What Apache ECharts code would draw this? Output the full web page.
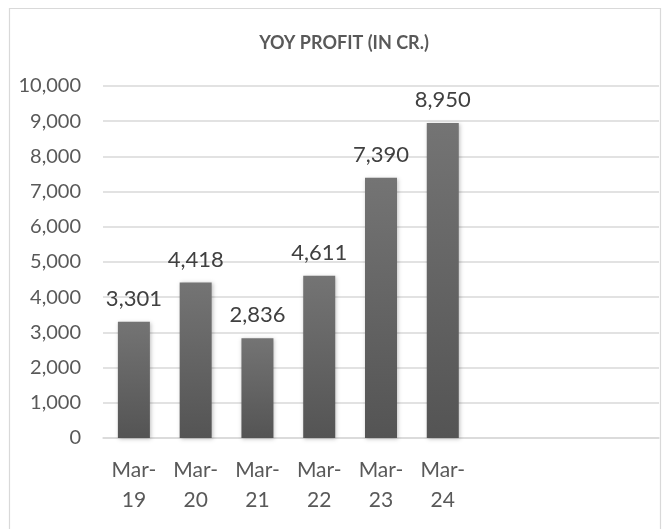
<!DOCTYPE html>
<html><head><meta charset="utf-8">
<script src="https://cdn.jsdelivr.net/npm/echarts@6/dist/echarts.min.js"></script>
<style>html,body{margin:0;padding:0;background:#fff}#c{width:662px;height:529px}</style>
</head><body><div id="c"></div>
<script>
var categories = ['Mar-19','Mar-20','Mar-21','Mar-22','Mar-23','Mar-24','','',''];
var profit = [3301, 4418, 2836, 4611, 7390, 8950];
var yTicks = [0,1000,2000,3000,4000,5000,6000,7000,8000,9000,10000];
var FONT = 'Lato, "Open Sans", sans-serif';
var chart = echarts.init(document.getElementById('c'));
chart.setOption({
  animation: false,
  backgroundColor: '#fff',
  title: {text: 'YOY PROFIT (IN CR.)', left: 339, textAlign: 'center', top: 29,
    textStyle: {fontFamily: FONT, fontSize: 18, fontWeight: 'bold', color: '#595959'}},
  graphic: [{type: 'rect', shape: {x: 9.5, y: 8.5, width: 651, height: 540},
    style: {fill: 'none', stroke: '#d9d9d9', lineWidth: 1.2}, silent: true}],
  grid: {left: 103, right: 3, top: 86, bottom: 91},
  xAxis: {type: 'category', data: categories,
    axisLine: {show: true, lineStyle: {color: '#d9d9d9', width: 1.5}},
    axisTick: {show: false},
    axisLabel: {interval: 0, fontFamily: FONT, fontSize: 21, color: '#595959', margin: 17, lineHeight: 30,
      formatter: function (v) { return v.replace('-', '-\n'); }}},
  yAxis: {type: 'value', min: 0, max: 10000, interval: 1000,
    axisLine: {show: false}, axisTick: {show: false},
    splitLine: {lineStyle: {color: '#d9d9d9', width: 1.5}},
    axisLabel: {fontFamily: FONT, fontSize: 20, color: '#595959', margin: 22,
      formatter: function (v) { return v.toLocaleString('en-US'); }}},
  series: [{type: 'bar', data: profit, barWidth: 32,
    itemStyle: {color: new echarts.graphic.LinearGradient(0,0,0,1,[{offset:0,color:'#747474'},{offset:1,color:'#545454'}]),
      shadowColor: 'rgba(0,0,0,0.25)', shadowBlur: 4, shadowOffsetX: 1, shadowOffsetY: 1},
    label: {show: true, position: 'top', distance: 12, fontFamily: FONT, fontSize: 22, color: '#404040',
      formatter: function (p) { return p.value.toLocaleString('en-US'); }}}]
});
</script></body></html>
